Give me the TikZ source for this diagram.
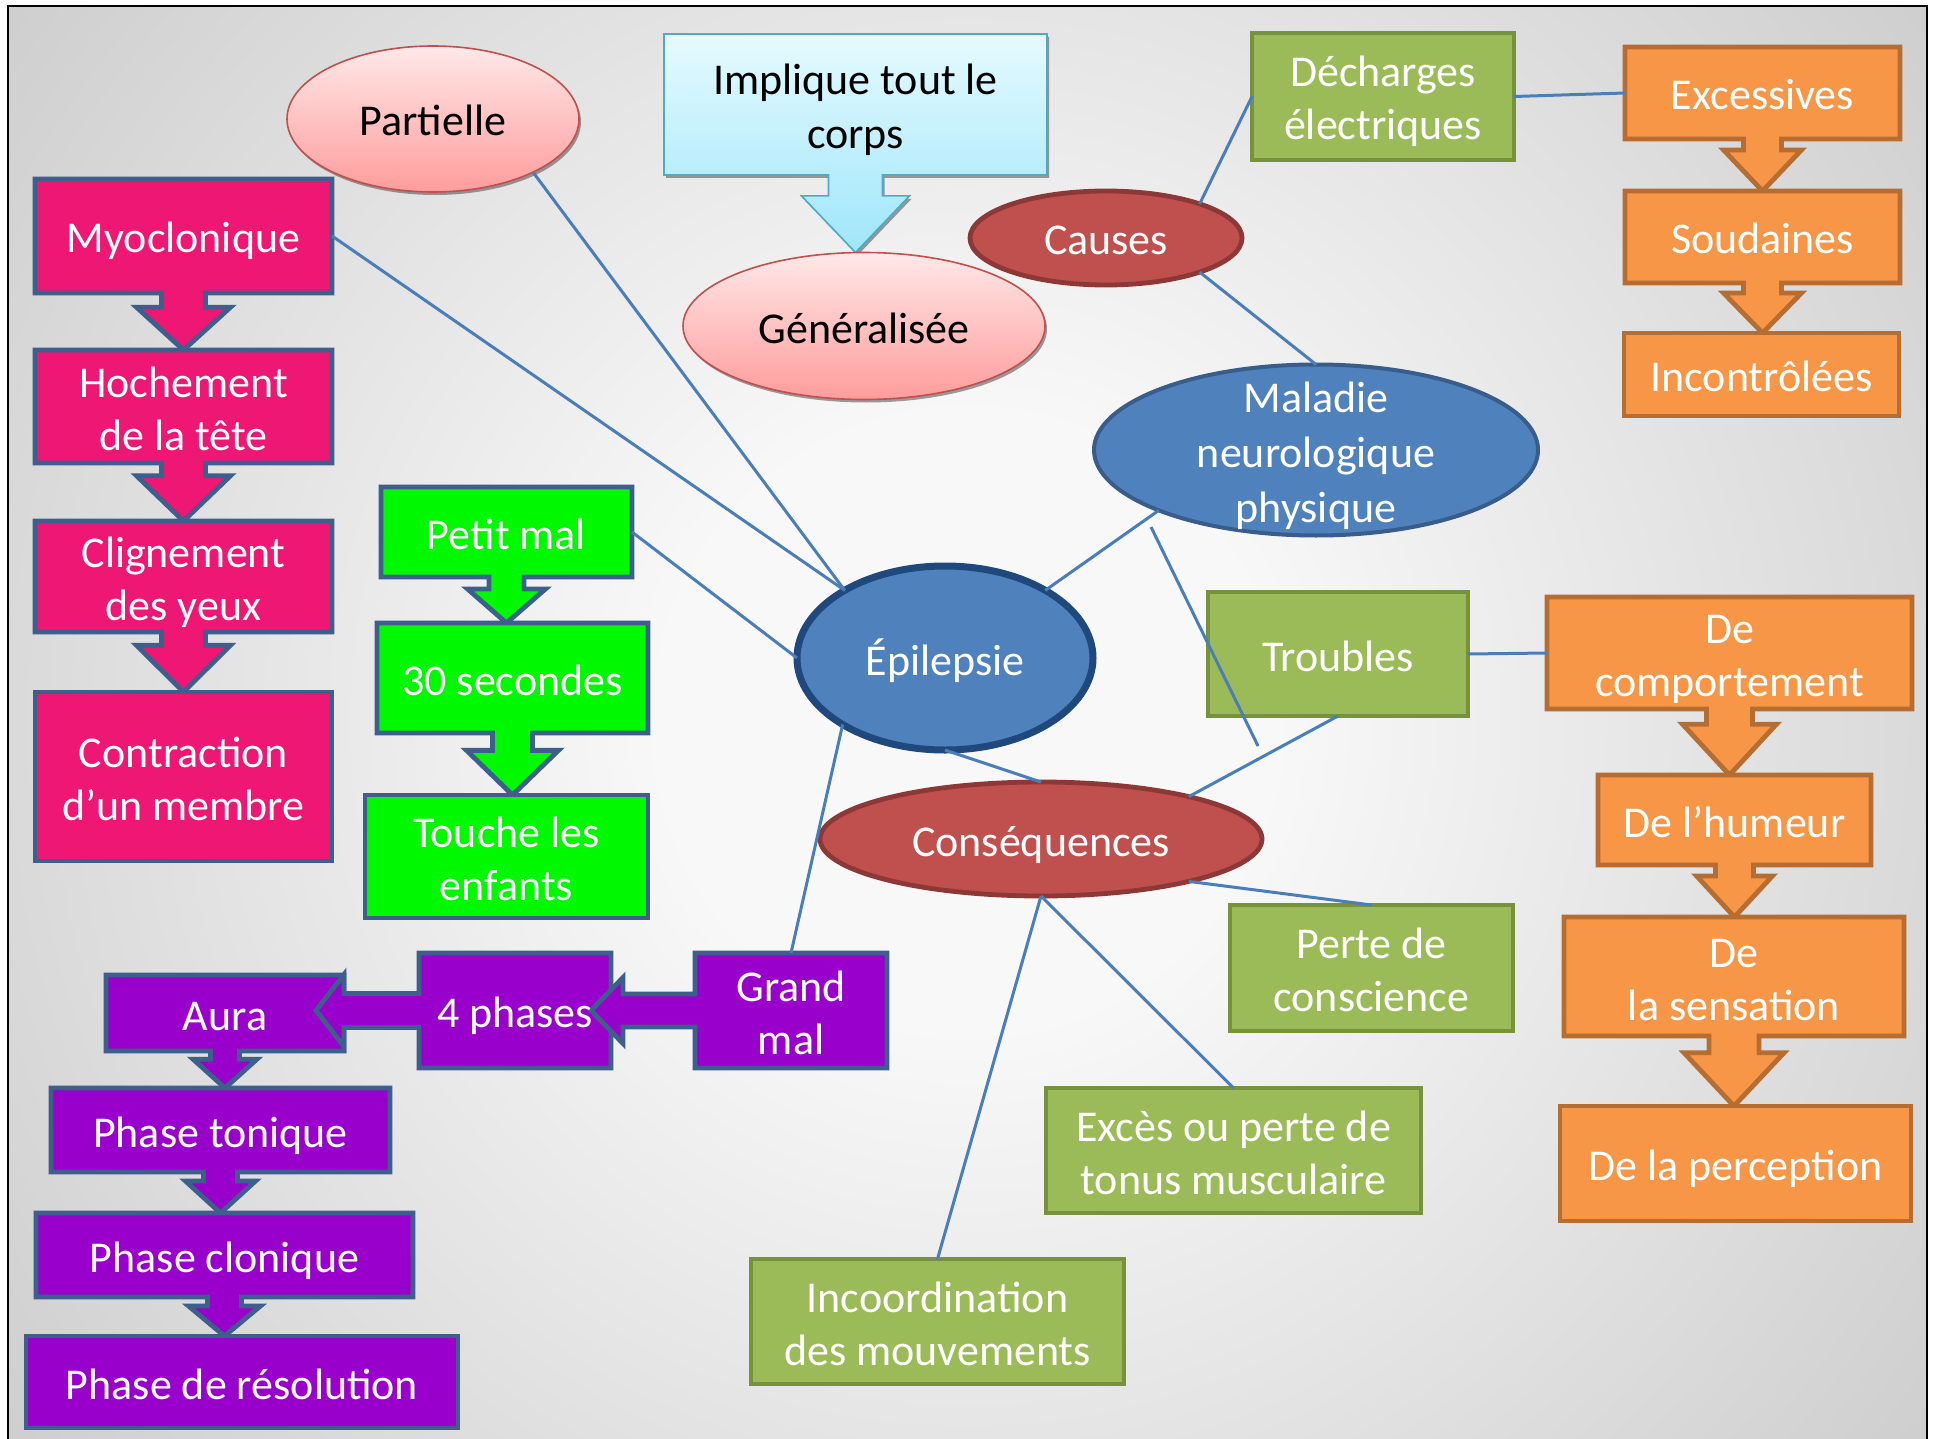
\documentclass[tikz,border=0pt]{standalone}
\usepackage{fontspec}
\setmainfont{Carlito}
\usetikzlibrary{shapes.geometric,calc,shadows}
\pgfdeclarelayer{background}
\pgfsetlayers{background,main}
\definecolor{bgA}{HTML}{F8F8F8}
\definecolor{bgB}{HTML}{C4C4C4}
\definecolor{bgC}{HTML}{A8A8A8}
\definecolor{bgD}{HTML}{959595}
\definecolor{PinkF}{HTML}{EE1774}
\definecolor{GreenF}{HTML}{00F800}
\definecolor{PurpF}{HTML}{9900CC}
\definecolor{BoxBd}{HTML}{3C5F8C}
\definecolor{OrF}{HTML}{F79646}
\definecolor{OrBd}{HTML}{B66D31}
\definecolor{OlF}{HTML}{9BBB59}
\definecolor{OlBd}{HTML}{76923C}
\definecolor{BlueF}{HTML}{4F81BD}
\definecolor{BlueBd}{HTML}{385D8A}
\definecolor{EpiBd}{HTML}{1F497D}
\definecolor{RedF}{HTML}{C0504D}
\definecolor{RedBd}{HTML}{8C3836}
\definecolor{PkTop}{HTML}{FFE8E8}
\definecolor{PkBot}{HTML}{FF9C9C}
\definecolor{CyTop}{HTML}{E6FAFF}
\definecolor{CyBot}{HTML}{9EE6FA}
\definecolor{CyBd}{HTML}{4BACC6}
\definecolor{LineC}{HTML}{4A7EBB}
\pgfdeclareradialshading{bgshade}{\pgfpoint{0bp}{0bp}}{color(0bp)=(bgA); color(8bp)=(bgA); color(37bp)=(bgB); color(50bp)=(bgC); color(63bp)=(bgD); color(72bp)=(bgD)}
\newcommand\bigtxt{\fontsize{22}{26.5}\selectfont}
\newcommand\tstr{\rule{0pt}{23pt}}
\newcommand\bstr{\rule[-6pt]{0pt}{6pt}}
% down callout: source, target, style, shaft half, head half, shaft fraction
\newcommand\dcall[6]{%
\begin{pgfonlayer}{background}
\path[#3] let \p1=(#1.south), \p2=(#2.north), \p3=($(#1.south)!#6!(#1.south |- #2.north)$) in
 (#1.north west) -- (#1.north east) -- (#1.south east) -- (\x1+#4,\y1) -- (\x1+#4,\y3) -- (\x1+#5,\y3)
 -- (\x1,\y2) -- (\x1-#5,\y3) -- (\x1-#4,\y3) -- (\x1-#4,\y1) -- (#1.south west) -- cycle;
\end{pgfonlayer}}
% left callout: source, target, style, shaft half, head half, tip inset, head length
\newcommand\lcall[7]{%
\begin{pgfonlayer}{background}
\path[#3] let \p1=(#1.west), \p2=(#2.east) in
 (#1.north west) -- (#1.north east) -- (#1.south east) -- (#1.south west) -- (\x1,\y1-#4)
 -- (\x2-#6+#7,\y1-#4) -- (\x2-#6+#7,\y1-#5) -- (\x2-#6,\y1) -- (\x2-#6+#7,\y1+#5)
 -- (\x2-#6+#7,\y1+#4) -- (\x1,\y1+#4) -- cycle;
\end{pgfonlayer}}
\tikzset{
 wh/.style 2 args={minimum width=#1*0.5pt, minimum height=#2*0.5pt},
 txtbox/.style={rectangle, outer sep=0pt, inner xsep=2pt, inner ysep=0pt, align=center, font=\bigtxt, text=white},
 ell/.style={ellipse, outer sep=0pt, inner sep=0pt, align=center, font=\bigtxt, text=white},
 pinkshape/.style={fill=PinkF, draw=BoxBd, line width=2.4pt},
 greenshape/.style={fill=GreenF, draw=BoxBd, line width=2.4pt},
 purpshape/.style={fill=PurpF, draw=BoxBd, line width=2.4pt},
 orshape/.style={fill=OrF, draw=OrBd, line width=2.4pt},
 olshape/.style={fill=OlF, draw=OlBd, line width=2.4pt},
 redell/.style={fill=RedF, draw=RedBd, line width=2.4pt},
 softshadow/.style={drop shadow={shadow xshift=1pt, shadow yshift=-1.5pt, opacity=0.55, fill=black!70}},
 pinkell/.style={top color=PkTop, bottom color=PkBot, draw=RedF, line width=0.8pt, softshadow, text=black},
 implshape/.style={top color=CyTop, bottom color=CyBot, draw=CyBd, line width=0.8pt, softshadow},
 conn/.style={draw=LineC, line width=1.5pt}
}
\begin{document}
\begin{tikzpicture}[x=0.5pt,y=-0.5pt]
\useasboundingbox (0,0) rectangle (1937,1439);
\begin{pgfonlayer}{background}
\fill[white] (0,0) rectangle (1937,1439);
\begin{scope}
\clip (8,6) rectangle (1927,1439);
\shade[shading=bgshade] (7,-238) rectangle (1927,1682);
\end{scope}
\draw[black, line width=1pt] (8,1439) -- (8,6) -- (1927,6) -- (1927,1439);
\end{pgfonlayer}

% ---- top ellipses and callout
\node[ell, pinkell, wh={292}{146}] (par) at (433,119) {\tstr Partielle\bstr};
\node[txtbox, text=black, wh={383}{141}, font=\fontsize{22}{27}\selectfont] (impl) at (855.5,104.5) {\tstr Implique tout le\\corps\bstr};
\node[ell, pinkell, wh={362}{147}] (gen) at (864,326) {\tstr Généralisée\bstr};
\dcall{impl}{gen}{implshape}{13.5pt}{27pt}{0.27}

% ---- causes branch
\node[ell, redell, wh={272}{94}] (cau) at (1106,238) {\tstr Causes\bstr};
\node[txtbox, olshape, wh={262}{127}] (dech) at (1383,96.5) {\tstr Décharges\\électriques\bstr};
\node[txtbox, wh={275}{92}] (excess) at (1762.5,93) {\tstr Excessives\bstr};
\node[txtbox, wh={275}{92}] (soud) at (1762.5,237) {\tstr Soudaines\bstr};
\node[txtbox, orshape, wh={275}{83}] (incon) at (1761.5,374.5) {\tstr Incontrôlées\bstr};
\dcall{excess}{soud}{orshape}{9.5pt}{19.5pt}{0.21}
\dcall{soud}{incon}{orshape}{9.5pt}{19.5pt}{0.2}

% ---- centre
\node[ell, fill=BlueF, draw=BlueBd, line width=2pt, inner ysep=-12pt, wh={444}{171}, font=\fontsize{22}{27.5}\selectfont] (mal) at (1316,450) {\tstr Maladie\\neurologique\\physique\bstr};
\node[ell, fill=BlueF, draw=EpiBd, line width=3.5pt, wh={296}{184}] (epi) at (945,658) {\tstr Épilepsie\bstr};
\node[ell, redell, wh={442}{114}] (con) at (1041,839) {\tstr Conséquences\bstr};

% ---- troubles branch
\node[txtbox, olshape, wh={260}{124}] (troub) at (1338,654) {\tstr Troubles\bstr};
\node[txtbox, wh={365}{112}] (comport) at (1729.5,653) {\tstr De\\comportement\bstr};
\node[txtbox, wh={273}{90}] (humeur) at (1734.5,820) {\tstr De l’humeur\bstr};
\node[txtbox, wh={340}{119}] (sensation) at (1734,976.5) {\tstr De\\la sensation\bstr};
\node[txtbox, orshape, wh={351}{115}] (percep) at (1735.5,1163.5) {\tstr De la perception\bstr};
\dcall{comport}{humeur}{orshape}{11.5pt}{23.5pt}{0.23}
\dcall{humeur}{sensation}{orshape}{9.5pt}{19pt}{0.21}
\dcall{sensation}{percep}{orshape}{12.5pt}{25pt}{0.24}

% ---- consequences
\node[txtbox, olshape, wh={283}{126}] (perte) at (1371.5,968) {\tstr Perte de\\conscience\bstr};
\node[txtbox, olshape, wh={375}{125}] (exces) at (1233.5,1150.5) {\tstr Excès ou perte de\\tonus musculaire\bstr};
\node[txtbox, olshape, wh={373}{125}] (incoord) at (937.5,1321.5) {\tstr Incoordination\\des mouvements\bstr};

% ---- myoclonique
\node[txtbox, wh={297}{114}] (myo) at (183.5,236) {\tstr Myoclonique\bstr};
\node[txtbox, wh={297}{113}] (hoch) at (183.5,406.5) {\tstr Hochement\\de la tête\bstr};
\node[txtbox, wh={297}{111}] (clig) at (183.5,576.5) {\tstr Clignement\\des yeux\bstr};
\node[txtbox, pinkshape, wh={297}{169}] (contr) at (183.5,776.5) {\tstr Contraction\\d’un membre\bstr};
\dcall{myo}{hoch}{pinkshape}{11pt}{23.5pt}{0.25}
\dcall{hoch}{clig}{pinkshape}{11pt}{23.5pt}{0.22}
\dcall{clig}{contr}{pinkshape}{11pt}{23.5pt}{0.22}

% ---- petit mal
\node[txtbox, wh={251}{90}] (petit) at (506.5,532) {\tstr Petit mal\bstr};
\node[txtbox, wh={271}{110}] (sec) at (512.5,678) {\tstr 30 secondes\bstr};
\node[txtbox, greenshape, wh={283}{123}] (touche) at (506.5,856.5) {\tstr Touche les\\enfants\bstr};
\dcall{petit}{sec}{greenshape}{8.75pt}{19.5pt}{0.26}
\dcall{sec}{touche}{greenshape}{10pt}{23pt}{0.28}

% ---- grand mal
\node[txtbox, wh={238}{76}] (aura) at (225,1013) {\tstr Aura\bstr};
\node[txtbox, wh={339}{84}] (tonique) at (220.5,1130) {\tstr Phase tonique\bstr};
\node[txtbox, wh={377}{84}] (clonique) at (224.5,1255) {\tstr Phase clonique\bstr};
\node[txtbox, purpshape, wh={432}{92}] (resol) at (242,1382) {\tstr Phase de résolution\bstr};
\node[txtbox, wh={192}{115}] (phase) at (515,1010.5) {\tstr 4 phases\bstr};
\node[txtbox, wh={192}{115}] (grand) at (791,1010.5) {\tstr Grand\\mal\bstr};
\dcall{aura}{tonique}{purpshape}{7.25pt}{16pt}{0.22}
\dcall{tonique}{clonique}{purpshape}{8.5pt}{17.5pt}{0.22}
\dcall{clonique}{resol}{purpshape}{8.5pt}{18pt}{0.23}
\lcall{phase}{aura}{purpshape}{8.5pt}{18pt}{14pt}{14pt}
\lcall{grand}{phase}{purpshape}{8.25pt}{16.5pt}{10pt}{16pt}

% ---- connectors
\coordinate (stubA) at (1151,527);
\coordinate (stubB) at (1258,746);
\draw[conn] (myo.east) -- (epi.146);
\draw[conn] (par.-28) -- (epi.146);
\draw[conn] (petit.east) -- (epi.west);
\draw[conn] (epi.213) -- (grand.north);
\draw[conn] (epi.34) -- (mal.201);
\draw[conn] (cau.20) -- (dech.west);
\draw[conn] (cau.-20) -- (mal.north);
\draw[conn] (dech.east) -- (excess.west);
\draw[conn] (stubA) -- (stubB);
\draw[conn] (troub.south) -- (con.16);
\draw[conn] (troub.east) -- (comport.west);
\draw[conn] (epi.south) -- (con.north);
\draw[conn] (con.-16) -- (perte.north);
\draw[conn] (con.south) -- (exces.north);
\draw[conn] (con.south) -- (incoord.north);
\end{tikzpicture}
\end{document}
